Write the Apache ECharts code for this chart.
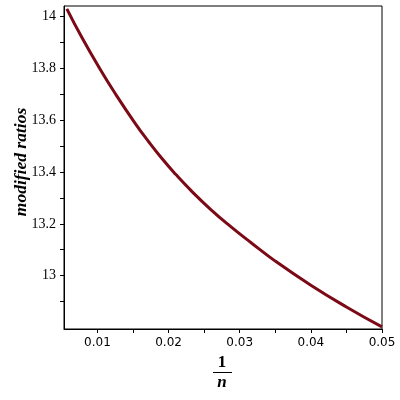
<!DOCTYPE html>
<html>
<head>
<meta charset="utf-8">
<script src="https://cdn.jsdelivr.net/npm/echarts@6/dist/echarts.min.js"></script>
<style>
  html, body { margin: 0; padding: 0; background: #fff; }
  #chart { width: 400px; height: 400px; }
</style>
</head>
<body>
<div id="chart"></div>
<script>
// values
const invN = [0.0057, 0.0078, 0.0102, 0.0125, 0.0153, 0.0172, 0.0191, 0.0210, 0.0231, 0.0259, 0.0287, 0.0316, 0.0349, 0.0400, 0.0450, 0.0500];
const ratios = [14.030, 13.920, 13.805, 13.703, 13.588, 13.517, 13.451, 13.391, 13.330, 13.256, 13.190, 13.127, 13.058, 12.963, 12.879, 12.802];

const xLabels = [0.01, 0.02, 0.03, 0.04, 0.05];
const xTicks = [0.01, 0.015, 0.02, 0.025, 0.03, 0.035, 0.04, 0.045, 0.05];
const yLabels = [13, 13.2, 13.4, 13.6, 13.8, 14];
const yTicks = [12.9, 13, 13.1, 13.2, 13.3, 13.4, 13.5, 13.6, 13.7, 13.8, 13.9, 14];

let chart = echarts.init(document.getElementById("chart"));

let points = invN.map((x, i) => [x, ratios[i]]);

let option = {
  animation: false,
  grid: {
    left: 64,
    right: 18,
    top: 6,
    bottom: 71,
    show: true,
    borderColor: "#000",
    borderWidth: 1
  },
  xAxis: {
    type: "value",
    min: 0.0053,
    max: 0.05,
    axisLine: { lineStyle: { color: "#000" } },
    axisTick: { customValues: xTicks, length: 4, lineStyle: { color: "#000" } },
    axisLabel: {
      customValues: xLabels,
      color: "#000",
      fontFamily: "DejaVu Sans",
      fontSize: 12,
      margin: 8
    },
    splitLine: { show: false }
  },
  yAxis: {
    type: "value",
    min: 12.794,
    max: 14.041,
    axisLine: { show: true, lineStyle: { color: "#000" } },
    axisTick: { show: true, customValues: yTicks, length: 4, lineStyle: { color: "#000" } },
    axisLabel: {
      customValues: yLabels,
      color: "#000",
      fontFamily: "Liberation Serif",
      fontSize: 14,
      margin: 8
    },
    splitLine: { show: false }
  },
  graphic: [
    {
      type: "text",
      x: 21,
      y: 162,
      rotation: Math.PI / 2,
      style: {
        text: "modified ratios",
        font: "italic bold 17.5px 'Liberation Serif'",
        fill: "#000",
        align: "center",
        verticalAlign: "middle"
      }
    },
    {
      type: "text",
      x: 222,
      y: 363,
      style: { text: "1", font: "bold 17px 'Liberation Serif'", fill: "#000", align: "center", verticalAlign: "middle" }
    },
    {
      type: "line",
      shape: { x1: 213, y1: 372.5, x2: 232, y2: 372.5 },
      style: { stroke: "#000", lineWidth: 1 }
    },
    {
      type: "text",
      x: 222,
      y: 383,
      style: { text: "n", font: "italic bold 17px 'Liberation Serif'", fill: "#000", align: "center", verticalAlign: "middle" }
    }
  ],
  series: [
    {
      type: "line",
      data: points,
      smooth: true,
      showSymbol: false,
      lineStyle: { color: "#7b0a16", width: 3 }
    }
  ]
};
chart.setOption(option);
</script>
</body>
</html>
